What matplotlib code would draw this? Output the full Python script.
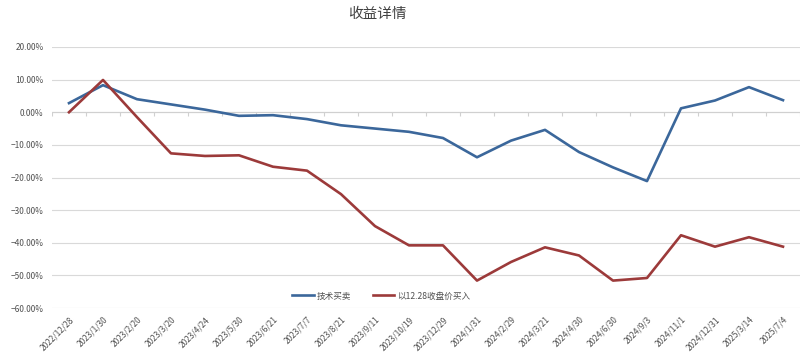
import numpy as np
import matplotlib
matplotlib.use('Agg')
import matplotlib.pyplot as plt
from matplotlib.ticker import PercentFormatter

plt.rcParams['font.family'] = ['Noto Sans CJK SC', 'DejaVu Sans']

# Datos
fechas = ['2022/12/28', '2023/1/30', '2023/2/20', '2023/3/20', '2023/4/24', '2023/5/30',
          '2023/6/21', '2023/7/7', '2023/8/21', '2023/9/11', '2023/10/19', '2023/12/29',
          '2024/1/31', '2024/2/29', '2024/3/21', '2024/4/30', '2024/6/30', '2024/9/3',
          '2024/11/1', '2024/12/31', '2025/3/14', '2025/7/4']
jishu = [2.8, 8.3, 4.0, 2.4, 0.8, -1.1, -0.9, -2.1, -4.0, -5.0, -6.0, -7.9,
         -13.8, -8.7, -5.4, -12.2, -16.9, -21.1, 1.2, 3.6, 7.7, 3.7]
shoupan = [0.0, 9.9, -1.5, -12.6, -13.4, -13.2, -16.7, -17.9, -25.1, -34.9, -40.8, -40.8,
           -51.6, -45.9, -41.4, -43.9, -51.6, -50.8, -37.7, -41.2, -38.3, -41.2]

azul = '#3B679B'
rojo = '#9C3A3A'
gris = '#505050'

fig = plt.figure(figsize=(8, 3.55), dpi=100)
ax = fig.add_axes([52 / 800, 1 - 308 / 355, 748 / 800, 261 / 355])

x = np.arange(len(fechas))
ax.plot(x, jishu, color=azul, lw=1.9, label='技术买卖')
ax.plot(x, shoupan, color=rojo, lw=1.9, label='以12.28收盘价买入')

ax.set_xlim(-0.5, len(fechas) - 0.5)
ax.set_ylim(-60, 20)
ax.set_yticks(np.arange(-60, 21, 10))
ax.yaxis.set_major_formatter(PercentFormatter(decimals=2))
ax.grid(axis='y', color='#D9D9D9', lw=0.8)
ax.set_axisbelow(True)

# eje horizontal en el 0 con marcas entre categorías
ax.axhline(0, color='#D0D0D0', lw=0.8, zorder=1)
ax.vlines(np.arange(-0.5, len(fechas)), -1.0, 0, color='#D0D0D0', lw=0.8, zorder=1)

ax.set_xticks(x)
ax.set_xticklabels(fechas, rotation=45, ha='right', rotation_mode='anchor')
ax.tick_params(axis='x', length=0, labelsize=6, labelcolor=gris, pad=5)
ax.tick_params(axis='y', length=0, labelsize=6, labelcolor=gris, pad=6)
for s in ax.spines.values():
    s.set_visible(False)

ax.legend(loc='center', bbox_to_anchor=(0.44, 0.046), ncol=2, frameon=False,
          fontsize=6.2, handlelength=2.5, columnspacing=2.5, handletextpad=0.3,
          labelcolor=gris)

fig.text(377 / 800, 1 - 14 / 355, '收益详情', ha='center', va='center',
         fontsize=10.5, color='#404040')

fig.savefig('out.png', dpi=100)
